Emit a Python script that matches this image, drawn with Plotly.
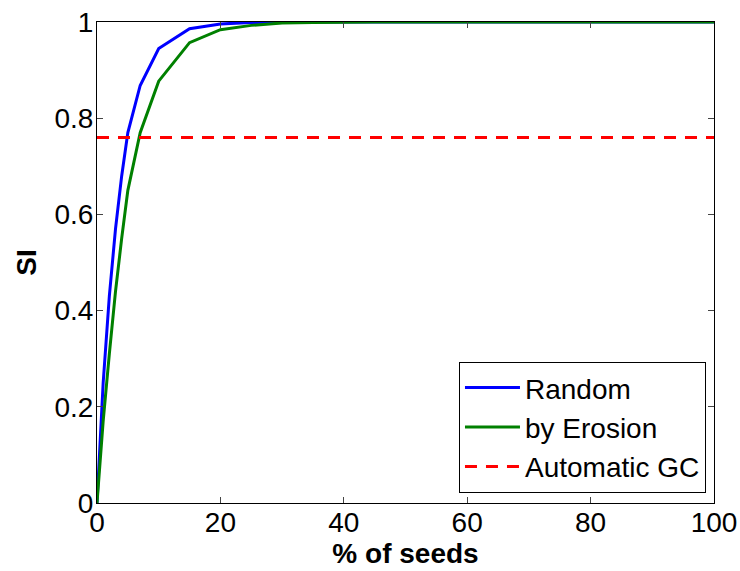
import plotly.graph_objects as go

seeds_pct = [0, 1, 2, 3, 4, 5, 7, 10, 15, 20, 25, 30, 35, 40, 45, 50, 55, 60, 65, 70, 75, 80, 85, 90, 95, 100]
si_random = [0, 0.25, 0.43, 0.57, 0.68, 0.77, 0.868, 0.945, 0.986, 0.996, 0.999, 1, 1, 1, 1, 1, 1, 1, 1, 1, 1, 1, 1, 1, 1, 1]
si_erosion = [0, 0.17, 0.31, 0.44, 0.55, 0.65, 0.77, 0.877, 0.957, 0.984, 0.993, 0.998, 0.999, 1, 1, 1, 1, 1, 1, 1, 1, 1, 1, 1, 1, 1]
si_auto_gc = 0.76
x_range = [0, 100]
x_ticks = [0, 20, 40, 60, 80, 100]
y_ticks = [0, 0.2, 0.4, 0.6, 0.8, 1]
y_tick_labels = ["0", "0.2", "0.4", "0.6", "0.8", "1"]

FONT = "Liberation Sans, Arial"

fig = go.Figure()
fig.add_trace(go.Scatter(x=seeds_pct, y=si_random, mode="lines", name="Random",
                         line=dict(color="#0000FF", width=3)))
fig.add_trace(go.Scatter(x=seeds_pct, y=si_erosion, mode="lines", name="by Erosion",
                         line=dict(color="#008000", width=3)))
fig.add_trace(go.Scatter(x=x_range, y=[si_auto_gc, si_auto_gc], mode="lines", name="Automatic GC",
                         line=dict(color="#FF0000", width=3, dash="12px,9px")))

axis_common = dict(showline=True, linecolor="black", linewidth=1, mirror="ticks",
                   ticks="inside", ticklen=6, tickcolor="#444", showgrid=False, zeroline=False,
                   automargin=False, ticklabeloverflow="allow",
                   tickfont=dict(family=FONT, size=28, color="black"))

fig.update_xaxes(range=x_range, tickvals=x_ticks, **axis_common, ticklabelstandoff=-6,
                 title=dict(text="<b>% of seeds</b>", font=dict(family=FONT, size=28, color="black"), standoff=0))
fig.update_yaxes(range=[0, 1], tickvals=y_ticks, ticktext=y_tick_labels, **axis_common, ticklabelstandoff=-3,
                 title=dict(text="<b>SI</b>", font=dict(family=FONT, size=28, color="black"), standoff=9))

fig.update_layout(
    width=740, height=571,
    margin=dict(l=97, r=26, t=22, b=68, autoexpand=False),
    plot_bgcolor="white", paper_bgcolor="white",
    legend=dict(x=0.987, y=0.021, xanchor="right", yanchor="bottom",
                bordercolor="black", borderwidth=1, bgcolor="white",
                font=dict(family=FONT, size=28, color="black"),
                tracegroupgap=0, itemwidth=55),
)

fig.write_html("out.html", config={"displayModeBar": False},
               post_script="document.body.style.margin='0';document.body.style.overflow='hidden';")
